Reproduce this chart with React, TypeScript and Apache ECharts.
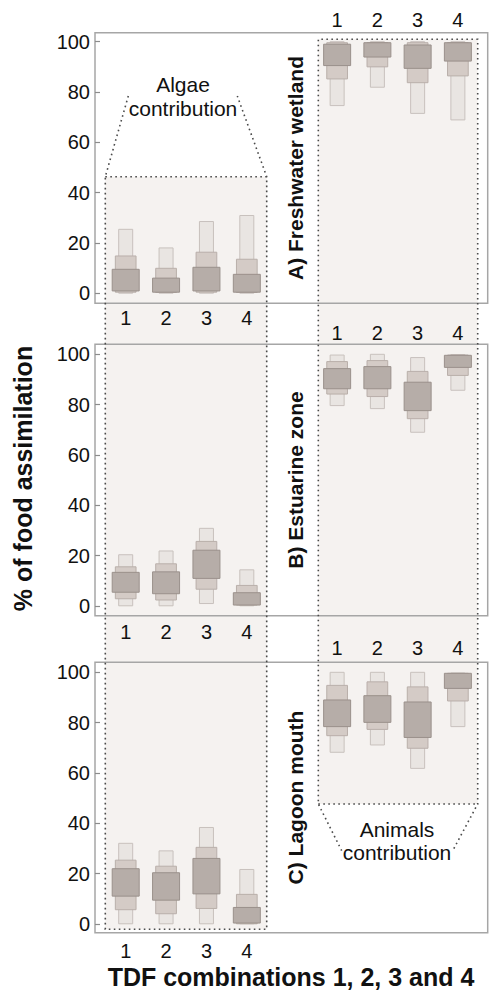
import React, { useEffect, useRef } from 'react';
import * as echarts from 'echarts';

// TDF combinations (categories)
const categories = ['1', '2', '3', '4'];
const yTickInterval = 20;

// each row: [lightLo, lightHi, midLo, midHi, darkLo, darkHi] (% of food assimilation)
const freshwaterAlgae = [
  [0, 25.4, 0.4, 14.8, 0.9, 9.5],
  [0, 18.0, 0.3, 9.9, 0.4, 6.0],
  [0, 28.5, 0.4, 16.3, 0.9, 10.3],
  [0, 30.9, 0.3, 13.5, 0.4, 7.5],
];
const freshwaterAnimals = [
  [74.6, 100, 85.2, 99.6, 90.5, 99.0],
  [81.9, 100, 90.0, 99.6, 93.9, 99.6],
  [71.5, 100, 83.7, 99.6, 89.4, 98.7],
  [68.9, 100, 86.4, 99.6, 92.3, 99.6],
];
const estuarineAlgae = [
  [0, 20.3, 2.8, 15.5, 5.4, 13.3],
  [0, 21.8, 2.3, 16.7, 4.8, 13.5],
  [0.9, 30.8, 6.6, 25.6, 10.9, 22.1],
  [0, 14.3, 0.3, 8.1, 0.3, 5.2],
];
const estuarineAnimals = [
  [79.6, 99.7, 84.2, 97.1, 86.3, 94.3],
  [78.4, 100, 83.2, 97.5, 86.3, 95.1],
  [69.0, 98.7, 74.4, 93.2, 77.6, 88.9],
  [85.7, 99.9, 91.6, 99.7, 94.8, 99.6],
];
const lagoonAlgae = [
  [0, 32.0, 5.6, 25.3, 11.0, 21.9],
  [0, 29.0, 4.0, 22.9, 9.4, 20.3],
  [0, 38.3, 6.1, 30.4, 11.9, 26.0],
  [0, 21.6, 0, 11.7, 0.3, 6.5],
];
const lagoonAnimals = [
  [68.2, 100, 74.8, 94.8, 78.4, 89.0],
  [71.1, 100, 77.3, 96.2, 80.1, 90.7],
  [61.8, 100, 69.8, 94.2, 74.1, 88.2],
  [78.4, 99.7, 88.6, 99.6, 93.6, 99.6],
];

const panelTitles = ['A) Freshwater wetland', 'B) Estuarine zone', 'C) Lagoon mouth'];
const panelAlgae = [freshwaterAlgae, estuarineAlgae, lagoonAlgae];
const panelAnimals = [freshwaterAnimals, estuarineAnimals, lagoonAnimals];

const FONT = "'Liberation Sans', Arial, Helvetica, sans-serif";
const PLOT_H = 251.5;
const layout = [
  { top: 41.7, frameTop: 32.7, frameBottom: 303.3, algaeMargin: 14.5, animalsMargin: 12.2 },
  { top: 354.3, frameTop: 344.3, frameBottom: 615.7, algaeMargin: 16, animalsMargin: 11.5 },
  { top: 672.3, frameTop: 662.3, frameBottom: 932.7, algaeMargin: 17.6, animalsMargin: 14.5 },
];

const boxStyles = [
  { w: 14, fill: '#e9e5e2', stroke: '#c8c1bd' },
  { w: 20.7, fill: '#d4cbc6', stroke: '#b9afaa' },
  { w: 27, fill: '#b6ada8', stroke: '#9a908b' },
];

const renderBoxes = (params: any, api: any) => {
  const x = api.value(0);
  const children = boxStyles.map((s, k) => {
    const lo = api.value(1 + k * 2);
    const hi = api.value(2 + k * 2);
    const pHi = api.coord([x, hi]);
    const pLo = api.coord([x, lo]);
    return {
      type: 'rect',
      shape: { x: pHi[0] - s.w / 2, y: pHi[1], width: s.w, height: pLo[1] - pHi[1] },
      style: { fill: s.fill, stroke: s.stroke, lineWidth: 1 },
    };
  });
  return { type: 'group', children };
};

export default function App() {
  const ref = useRef<HTMLDivElement>(null);

  useEffect(() => {
    document.body.style.margin = '0';
    if (!ref.current) return;
    const chart = echarts.init(ref.current, undefined, { renderer: 'svg' });

    const grid: any[] = [];
    const xAxis: any[] = [];
    const yAxis: any[] = [];
    const series: any[] = [];
    const graphic: any[] = [];

    layout.forEach((L, p) => {
      const base = p * 3;
      grid.push(
        { left: 95, top: L.top, width: 393, height: PLOT_H, containLabel: false, outerBoundsMode: 'none' },
        { left: 105.5, top: L.top, width: 161.5, height: PLOT_H, containLabel: false, outerBoundsMode: 'none' },
        { left: 317, top: L.top, width: 161, height: PLOT_H, containLabel: false, outerBoundsMode: 'none' }
      );
      xAxis.push(
        { gridIndex: base, type: 'value', min: 0, max: 1, show: false },
        {
          gridIndex: base + 1, type: 'category', data: categories, position: 'bottom', z: 10,
          axisLine: { show: false }, axisTick: { show: false }, splitLine: { show: false },
          axisLabel: { margin: L.algaeMargin, fontSize: 20, color: '#111', fontFamily: FONT },
        },
        {
          gridIndex: base + 2, type: 'category', data: categories, position: 'top', z: 10,
          axisLine: { show: false }, axisTick: { show: false }, splitLine: { show: false },
          axisLabel: { margin: L.animalsMargin, fontSize: 20, color: '#111', fontFamily: FONT },
        }
      );
      yAxis.push(
        {
          gridIndex: base, type: 'value', min: 0, max: 100, interval: yTickInterval, z: 10,
          axisLine: { show: false },
          axisTick: { show: true, inside: true, length: 5, lineStyle: { color: '#8c8c8c', width: 1.2 } },
          splitLine: { show: false },
          axisLabel: { margin: 5, fontSize: 20, color: '#111', fontFamily: FONT },
        },
        { gridIndex: base + 1, type: 'value', min: 0, max: 100, show: false },
        { gridIndex: base + 2, type: 'value', min: 0, max: 100, show: false }
      );
      const algae = panelAlgae[p];
      const animals = panelAnimals[p];
      series.push(
        {
          type: 'custom', name: panelTitles[p] + ' algae', xAxisIndex: base + 1, yAxisIndex: base + 1,
          renderItem: renderBoxes, encode: { x: 0, y: [1, 2, 3, 4, 5, 6] },
          data: categories.map((c, i) => [i, ...algae[i]]),
        },
        {
          type: 'custom', name: panelTitles[p] + ' animals', xAxisIndex: base + 2, yAxisIndex: base + 2,
          renderItem: renderBoxes, encode: { x: 0, y: [1, 2, 3, 4, 5, 6] },
          data: categories.map((c, i) => [i, ...animals[i]]),
        }
      );
      // panel frame
      graphic.push({
        type: 'rect', z: 1,
        shape: { x: 95, y: L.frameTop, width: 392.7, height: L.frameBottom - L.frameTop },
        style: { fill: 'none', stroke: '#a6a6a6', lineWidth: 1.5 },
      });
      // panel title
      graphic.push({
        type: 'text', z: 10, x: 295, y: (L.frameTop + L.frameBottom) / 2, rotation: Math.PI / 2,
        style: {
          text: panelTitles[p], fontSize: 21, fontWeight: 'bold', fontFamily: FONT, fill: '#111',
          align: 'center', verticalAlign: 'middle',
        },
      });
    });

    const dotted = { stroke: '#4a4a4a', lineWidth: 1.6, lineDash: [1.6, 3.4], fill: null };

    // region fills
    graphic.unshift(
      { type: 'rect', z: 0, shape: { x: 105.3, y: 176.7, width: 161.4, height: 929.3 - 176.7 }, style: { fill: '#f5f2f0' } },
      { type: 'rect', z: 0, shape: { x: 318.3, y: 39.3, width: 159.4, height: 804 - 39.3 }, style: { fill: '#f5f2f0' } }
    );
    // dotted outlines
    graphic.push(
      {
        type: 'polyline', z: 2,
        shape: { points: [[128.3, 96], [105.3, 176.7], [105.3, 929.3], [266.7, 929.3], [266.7, 176.7], [237.3, 96]] },
        style: dotted,
      },
      { type: 'line', z: 2, shape: { x1: 105.3, y1: 176.7, x2: 266.7, y2: 176.7 }, style: dotted },
      {
        type: 'polyline', z: 2,
        shape: { points: [[341.7, 850.7], [318.3, 804], [318.3, 39.3], [477.7, 39.3], [477.7, 804], [452.7, 850.7]] },
        style: dotted,
      },
      { type: 'line', z: 2, shape: { x1: 318.3, y1: 804, x2: 477.7, y2: 804 }, style: dotted }
    );
    // annotations & axis titles
    graphic.push(
      {
        type: 'text', z: 10, x: 183, y: 96.2,
        style: { text: 'Algae\ncontribution', fontSize: 21, lineHeight: 24, fontFamily: FONT, fill: '#111', align: 'center', verticalAlign: 'middle' },
      },
      {
        type: 'text', z: 10, x: 397, y: 841,
        style: { text: 'Animals\ncontribution', fontSize: 21, lineHeight: 23.5, fontFamily: FONT, fill: '#111', align: 'center', verticalAlign: 'middle' },
      },
      {
        type: 'text', z: 10, x: 23, y: 478.5, rotation: Math.PI / 2,
        style: { text: '% of food assimilation', fontSize: 25, fontWeight: 'bold', fontFamily: FONT, fill: '#111', align: 'center', verticalAlign: 'middle' },
      },
      {
        type: 'text', z: 10, x: 291, y: 977,
        style: { text: 'TDF combinations 1, 2, 3 and 4', fontSize: 25, fontWeight: 'bold', fontFamily: FONT, fill: '#111', align: 'center', verticalAlign: 'middle' },
      }
    );

    chart.setOption({
      animation: false,
      backgroundColor: '#ffffff',
      textStyle: { fontFamily: FONT },
      grid, xAxis, yAxis, series, graphic,
    });

    return () => chart.dispose();
  }, []);

  return (
    <div
      ref={ref}
      style={{ position: 'absolute', left: 0, top: 0, width: 489, height: 992 }}
    />
  );
}
